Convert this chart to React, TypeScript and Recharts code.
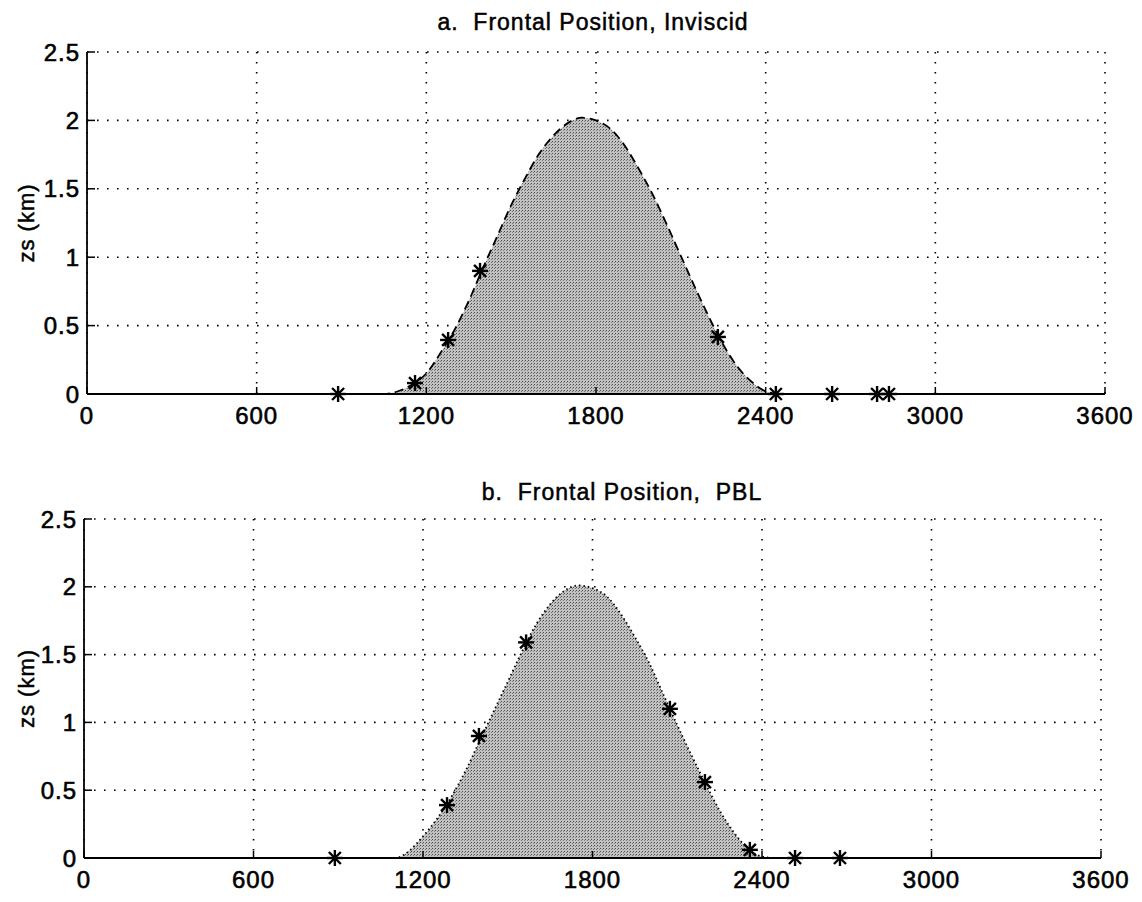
import React from "react";
import {
  ComposedChart,
  Area,
  Scatter,
  XAxis,
  YAxis,
  CartesianGrid,
} from "recharts";

// x positions (km) of the sampled terrain profile
const xPos = [
  0, 1000, 1050, 1100, 1150, 1200, 1250, 1300, 1350, 1400, 1450, 1500, 1550,
  1600, 1650, 1700, 1750, 1800, 1850, 1900, 1950, 2000, 2050, 2100, 2150, 2200,
  2250, 2300, 2350, 2400, 2450, 3600,
];

// terrain height zs (km), panel a
const zsInviscid = [
  0, 0, 0, 0.02, 0.07, 0.15, 0.3, 0.47, 0.68, 0.92, 1.15, 1.38, 1.58, 1.76,
  1.89, 1.98, 2.02, 2.0, 1.94, 1.82, 1.65, 1.46, 1.24, 1.01, 0.78, 0.56, 0.36,
  0.2, 0.09, 0.02, 0, 0,
];

// terrain height zs (km), panel b
const zsPBL = [
  0, 0, 0, 0, 0.05, 0.16, 0.29, 0.45, 0.64, 0.86, 1.08, 1.3, 1.52, 1.72, 1.87,
  1.97, 2.01, 1.99, 1.93, 1.8, 1.63, 1.44, 1.21, 0.98, 0.76, 0.55, 0.35, 0.19,
  0.07, 0.01, 0, 0,
];

// frontal positions (asterisks)
const frontXInviscid = [888, 1160, 1277, 1390, 2231, 2436, 2635, 2794, 2836];
const frontZInviscid = [0, 0.08, 0.395, 0.9, 0.417, 0, 0, 0, 0];
const frontXPBL = [888, 1285, 1398, 1565, 2074, 2198, 2357, 2517, 2676];
const frontZPBL = [0, 0.39, 0.9, 1.59, 1.1, 0.56, 0.06, 0, 0];

const xTicks = [0, 600, 1200, 1800, 2400, 3000, 3600];
const yTicks = [0, 0.5, 1, 1.5, 2, 2.5];

const FONT = "'Liberation Sans', Arial, Helvetica, sans-serif";

const toRows = (xs: number[], zs: number[]) =>
  xs.map((x, i) => ({ x, z: zs[i] }));

const Asterisk = (props: any) => {
  const { cx, cy } = props;
  if (cx == null || cy == null) return null;
  const r = 8;
  const d = 6;
  return (
    <g stroke="#000" strokeWidth={2.4}>
      <line x1={cx - r} y1={cy} x2={cx + r} y2={cy} />
      <line x1={cx} y1={cy - r} x2={cx} y2={cy + r} />
      <line x1={cx - d} y1={cy - d} x2={cx + d} y2={cy + d} />
      <line x1={cx - d} y1={cy + d} x2={cx + d} y2={cy - d} />
    </g>
  );
};

// scanned Helvetica looks heavy, so give the glyphs a thin outline
const tickStyle = {
  fontSize: 24,
  fill: "#000",
  stroke: "#000",
  strokeWidth: 0.6,
  fontFamily: FONT,
  letterSpacing: 1,
};

function Panel({
  title,
  titleX,
  top,
  height,
  yAxisWidth,
  marginTop,
  marginRight,
  marginBottom,
  curve,
  fronts,
  dash,
}: any) {
  const plotMid = marginTop + (height - marginTop - marginBottom - 40) / 2;
  return (
    <div style={{ position: "absolute", left: 0, top }}>
      <ComposedChart
        width={1142}
        height={height}
        data={curve}
        margin={{ top: marginTop, right: marginRight, bottom: marginBottom, left: 0 }}
      >
        <defs>
          <pattern id={"stip" + top} width={3} height={3} patternUnits="userSpaceOnUse">
            <rect width={3} height={3} fill="#c2c2c2" />
            <rect x={0} y={0} width={1} height={1} fill="#4a4a4a" />
            <rect x={2} y={1} width={1} height={1} fill="#7a7a7a" />
          </pattern>
        </defs>
        <CartesianGrid
          stroke="#000"
          strokeWidth={1.6}
          strokeDasharray="1.6 8.4"
        />
        <XAxis
          type="number"
          dataKey="x"
          domain={[0, 3600]}
          ticks={xTicks}
          interval={0}
          height={40}
          axisLine={{ stroke: "#000", strokeWidth: 1.8 }}
          tickLine={{ stroke: "#000", strokeWidth: 1.5 }}
          tickSize={-7}
          tickMargin={20}
          tick={tickStyle}
        />
        <YAxis
          type="number"
          domain={[0, 2.5]}
          ticks={yTicks}
          interval={0}
          width={yAxisWidth}
          axisLine={{ stroke: "#000", strokeWidth: 1.8 }}
          tickLine={{ stroke: "#000", strokeWidth: 1.5 }}
          tickSize={-8}
          tickMargin={15}
          tick={tickStyle}
        />
        <Area
          type="monotone"
          dataKey="z"
          stroke="#000"
          strokeWidth={1.8}
          strokeDasharray={dash}
          fill={`url(#stip${top}) #adadad`}
          fillOpacity={1}
          dot={false}
          activeDot={false}
          isAnimationActive={false}
        />
        <Scatter
          data={fronts}
          dataKey="z"
          shape={<Asterisk />}
          isAnimationActive={false}
        />
        <text
          x={titleX}
          y={30}
          textAnchor="middle"
          style={{ whiteSpace: "pre" }}
          fontFamily={FONT}
          fontSize={23}
          letterSpacing={1}
          fill="#000"
          stroke="#000"
          strokeWidth={0.5}
        >
          {title}
        </text>
        <text
          x={34}
          y={plotMid}
          transform={`rotate(-90 34 ${plotMid})`}
          textAnchor="middle"
          fontFamily={FONT}
          fontSize={22}
          letterSpacing={1}
          fill="#000"
          stroke="#000"
          strokeWidth={0.5}
        >
          zs (km)
        </text>
      </ComposedChart>
    </div>
  );
}

export default function App() {
  return (
    <div style={{ position: "absolute", left: 0, top: 0, width: 1142, height: 900, background: "#fff" }}>
      <Panel
        title="a.  Frontal Position, Inviscid"
        titleX={593}
        top={0}
        height={440}
        yAxisWidth={87}
        marginTop={52}
        marginRight={37}
        marginBottom={6}
        curve={toRows(xPos, zsInviscid)}
        fronts={toRows(frontXInviscid, frontZInviscid)}
        dash="9 5"
      />
      <Panel
        title="b.  Frontal Position,  PBL"
        titleX={622}
        top={470}
        height={430}
        yAxisWidth={84}
        marginTop={49}
        marginRight={41}
        marginBottom={2}
        curve={toRows(xPos, zsPBL)}
        fronts={toRows(frontXPBL, frontZPBL)}
        dash="1.5 3"
      />
    </div>
  );
}
